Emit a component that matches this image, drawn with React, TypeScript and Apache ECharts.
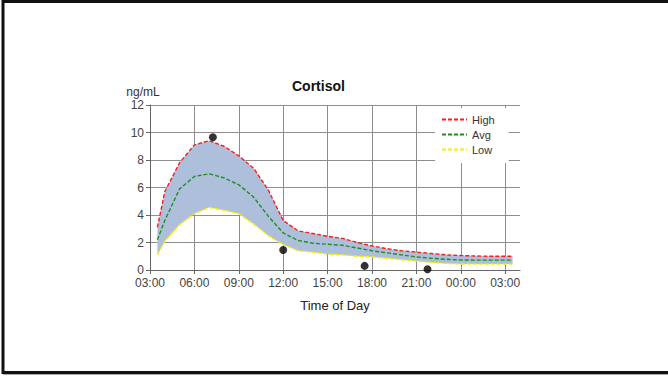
import React, { useEffect, useRef } from 'react';
import * as echarts from 'echarts';

const hours = [3.5, 4, 5, 6, 7, 8, 9, 10, 11, 12, 13, 14, 15, 16, 17, 18, 19, 20, 21, 22, 23, 24, 25, 26, 27, 27.5];
const highValues = [3.1, 5.7, 7.8, 9.1, 9.4, 9.0, 8.3, 7.4, 5.8, 3.6, 2.85, 2.65, 2.45, 2.3, 2.0, 1.75, 1.55, 1.4, 1.3, 1.2, 1.1, 1.05, 1.02, 1.0, 1.0, 1.0];
const avgValues = [2.2, 3.6, 5.9, 6.8, 7.0, 6.7, 6.2, 5.3, 3.9, 2.7, 2.15, 1.95, 1.87, 1.8, 1.6, 1.4, 1.25, 1.1, 0.95, 0.85, 0.78, 0.73, 0.72, 0.72, 0.72, 0.72];
const lowValues = [1.1, 2.1, 3.3, 4.1, 4.55, 4.35, 4.1, 3.35, 2.5, 1.85, 1.4, 1.3, 1.15, 1.1, 1.0, 0.95, 0.85, 0.75, 0.65, 0.55, 0.48, 0.44, 0.43, 0.43, 0.43, 0.43];
const sampleHours = [7.25, 12, 17.5, 21.75];
const sampleValues = [9.65, 1.45, 0.3, 0.05];
const xTicks = [3, 6, 9, 12, 15, 18, 21, 24, 27];

const FONT = '"Liberation Sans", Arial, sans-serif';

const pair = (vals: number[]) => hours.map((h, i) => [h, vals[i]]);

export default function App() {
  const ref = useRef<HTMLDivElement>(null);
  useEffect(() => {
    if (!ref.current) return;
    const chart = echarts.init(ref.current, null, { renderer: 'svg' });
    const bandRows = hours.map((h, i) => [h, lowValues[i], highValues[i]]);
    const dashed = (color: string) => ({ color, width: 1.4, type: [4, 2] as any });
    chart.setOption({
      animation: false,
      backgroundColor: '#fff',
      textStyle: { fontFamily: FONT },
      title: {
        text: 'Cortisol',
        left: 292,
        top: 79,
        padding: 0,
        textStyle: { fontFamily: FONT, fontSize: 14, fontWeight: 'bold', color: '#111' },
      },
      legend: {
        data: ['High', 'Avg', 'Low'],
        orient: 'vertical',
        left: 435,
        top: 108,
        backgroundColor: '#fff',
        padding: [6, 14, 8, 6],
        itemGap: 4,
        itemWidth: 25,
        itemHeight: 10,
        itemStyle: { color: 'rgba(0,0,0,0)', borderWidth: 0, opacity: 0 },
        textStyle: { fontFamily: FONT, fontSize: 11, color: '#333' },
      },
      grid: { left: 150, top: 105, width: 370, height: 165, containLabel: false },
      xAxis: {
        type: 'value',
        min: 3,
        max: 28,
        interval: 3,
        name: 'Time of Day',
        nameLocation: 'middle',
        nameGap: 29,
        nameTextStyle: { fontFamily: FONT, fontSize: 13, color: '#222' },
        axisLine: { show: true, lineStyle: { color: '#666', width: 1 } },
        axisTick: { show: true, length: 4, customValues: xTicks, lineStyle: { color: '#666' } },
        axisLabel: {
          customValues: xTicks,
          margin: 7,
          fontFamily: FONT,
          fontSize: 12,
          color: '#444',
          formatter: (v: number) => String(Math.round(v) % 24).padStart(2, '0') + ':00',
        },
        splitLine: { show: true, lineStyle: { color: '#8e8e8e', width: 1 } },
      },
      yAxis: {
        type: 'value',
        min: 0,
        max: 12,
        interval: 2,
        name: 'ng/mL',
        nameLocation: 'end',
        nameGap: 7,
        nameTextStyle: { fontFamily: FONT, fontSize: 12, color: '#333', align: 'center', padding: [0, 14, 0, 0] },
        axisLine: { show: true, lineStyle: { color: '#666', width: 1 } },
        axisTick: { show: true, length: 4, lineStyle: { color: '#666' } },
        axisLabel: { margin: 6, fontFamily: FONT, fontSize: 12, color: '#444' },
        splitLine: { show: true, lineStyle: { color: '#8e8e8e', width: 1 } },
      },
      series: [
        {
          name: 'Range',
          type: 'custom',
          data: bandRows,
          encode: { x: 0, y: [1, 2] },
          silent: true,
          z: 1,
          renderItem: (params: any, api: any) => {
            if (params.dataIndex !== 0) return null;
            const top = bandRows.map((r) => api.coord([r[0], r[2]]));
            const bottom = bandRows.map((r) => api.coord([r[0], r[1]])).reverse();
            return {
              type: 'polygon',
              shape: { points: top.concat(bottom) },
              style: { fill: '#aebfdc', stroke: 'none' },
            };
          },
        },
        {
          name: 'High',
          type: 'line',
          data: pair(highValues),
          symbol: 'none',
          lineStyle: dashed('#ff1a1a'),
          itemStyle: { color: '#ff1a1a' },
          z: 3,
        },
        {
          name: 'Avg',
          type: 'line',
          data: pair(avgValues),
          symbol: 'none',
          lineStyle: dashed('#1f8f1f'),
          itemStyle: { color: '#1f8f1f' },
          z: 3,
        },
        {
          name: 'Low',
          type: 'line',
          data: pair(lowValues),
          symbol: 'none',
          lineStyle: dashed('#f5f000'),
          itemStyle: { color: '#f5f000' },
          z: 3,
        },
        {
          name: 'Samples',
          type: 'scatter',
          data: sampleHours.map((h, i) => [h, sampleValues[i]]),
          symbol: 'circle',
          symbolSize: 8,
          itemStyle: { color: '#000' },
          z: 4,
        },
      ],
      graphic: [
        {
          type: 'rect',
          shape: { x: 3, y: 1.5, width: 700, height: 371 },
          style: { fill: 'none', stroke: '#111', lineWidth: 3 },
          silent: true,
        },
        {
          type: 'line',
          shape: { x1: 3, y1: 374.5, x2: 700, y2: 374.5 },
          style: { stroke: '#aaa', lineWidth: 1 },
          silent: true,
        },
      ],
    });
    return () => chart.dispose();
  }, []);
  return <div ref={ref} style={{ position: 'fixed', left: 0, top: 0, width: 668, height: 379 }} />;
}
